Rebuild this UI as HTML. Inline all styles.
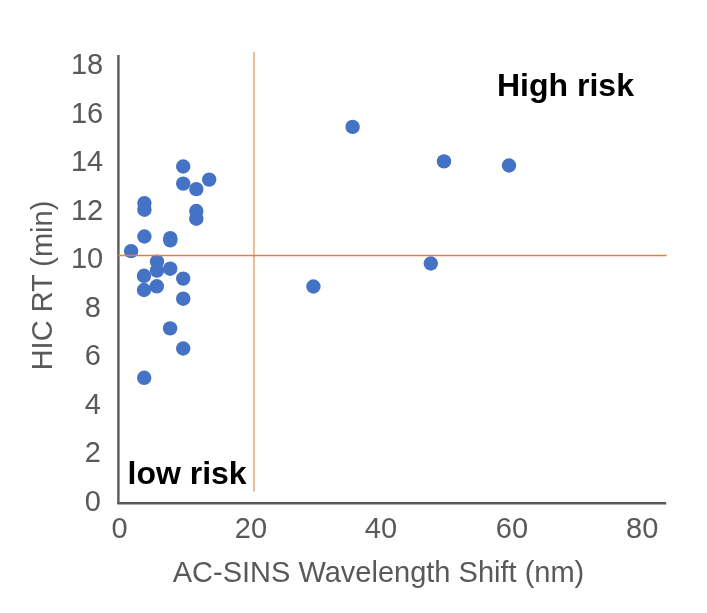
<!DOCTYPE html>
<html><head><meta charset="utf-8"><style>
html,body{margin:0;padding:0;background:#fff;width:707px;height:613px;overflow:hidden}
svg{position:absolute;left:0;top:0;will-change:transform}
text{font-family:"Liberation Sans",sans-serif}
</style></head><body>
<svg width="707" height="613" viewBox="0 0 707 613">
<g fill="#595959" font-size="29">
<text x="103.2" y="74.1" text-anchor="end">18</text>
<text x="103.2" y="122.6" text-anchor="end">16</text>
<text x="103.2" y="171.2" text-anchor="end">14</text>
<text x="103.2" y="219.7" text-anchor="end">12</text>
<text x="103.2" y="268.3" text-anchor="end">10</text>
<text x="100.8" y="316.8" text-anchor="end">8</text>
<text x="100.8" y="365.3" text-anchor="end">6</text>
<text x="100.8" y="413.9" text-anchor="end">4</text>
<text x="100.8" y="462.4" text-anchor="end">2</text>
<text x="100.8" y="511.0" text-anchor="end">0</text>
<text x="119.5" y="538" text-anchor="middle">0</text>
<text x="251" y="538" text-anchor="middle">20</text>
<text x="381" y="538" text-anchor="middle">40</text>
<text x="512" y="538" text-anchor="middle">60</text>
<text x="642.2" y="538" text-anchor="middle">80</text>
</g>
<text x="378.5" y="582" text-anchor="middle" fill="#595959" font-size="29">AC-SINS Wavelength Shift (nm)</text>
<text transform="translate(51.5,285.5) rotate(-90)" text-anchor="middle" fill="#595959" font-size="29">HIC RT (min)</text>
<line x1="118.4" y1="55" x2="118.4" y2="504" stroke="#595959" stroke-width="2.4"/>
<line x1="117.2" y1="503.3" x2="666.2" y2="503.3" stroke="#595959" stroke-width="2.4"/>
<g fill="#4472C4">
<circle cx="183.2" cy="166.5" r="7.2"/>
<circle cx="183.2" cy="183.6" r="7.2"/>
<circle cx="196.3" cy="189.1" r="7.2"/>
<circle cx="209.2" cy="179.6" r="7.2"/>
<circle cx="144.4" cy="203.1" r="7.2"/>
<circle cx="144.4" cy="209.7" r="7.2"/>
<circle cx="196.3" cy="211" r="7.2"/>
<circle cx="196.3" cy="218.7" r="7.2"/>
<circle cx="144.4" cy="236.5" r="7.2"/>
<circle cx="170.3" cy="238.2" r="7.2"/>
<circle cx="170.3" cy="240.4" r="7.2"/>
<circle cx="131.1" cy="251.1" r="7.2"/>
<circle cx="157" cy="261.6" r="7.2"/>
<circle cx="157" cy="270.6" r="7.2"/>
<circle cx="170.2" cy="268.7" r="7.2"/>
<circle cx="144" cy="275.8" r="7.2"/>
<circle cx="183.2" cy="278.6" r="7.2"/>
<circle cx="144" cy="290" r="7.2"/>
<circle cx="156.8" cy="286.3" r="7.2"/>
<circle cx="183.2" cy="298.7" r="7.2"/>
<circle cx="170.1" cy="328.4" r="7.2"/>
<circle cx="183.2" cy="348.5" r="7.2"/>
<circle cx="144.2" cy="377.8" r="7.2"/>
<circle cx="352.6" cy="126.9" r="7.2"/>
<circle cx="444" cy="161.4" r="7.2"/>
<circle cx="509" cy="165.5" r="7.2"/>
<circle cx="313.4" cy="286.5" r="7.2"/>
<circle cx="430.8" cy="263.5" r="7.2"/>
</g>
<line x1="253.9" y1="52" x2="253.9" y2="491.6" stroke="#F4B183" stroke-width="1.8"/>
<line x1="118" y1="255.5" x2="666.5" y2="255.5" stroke="#ED7D31" stroke-width="1.4"/>
<text x="497" y="95.6" fill="#000" font-size="32" font-weight="bold">High risk</text>
<text x="127.5" y="483.7" fill="#000" font-size="32" font-weight="bold">low risk</text>
</svg>
</body></html>
